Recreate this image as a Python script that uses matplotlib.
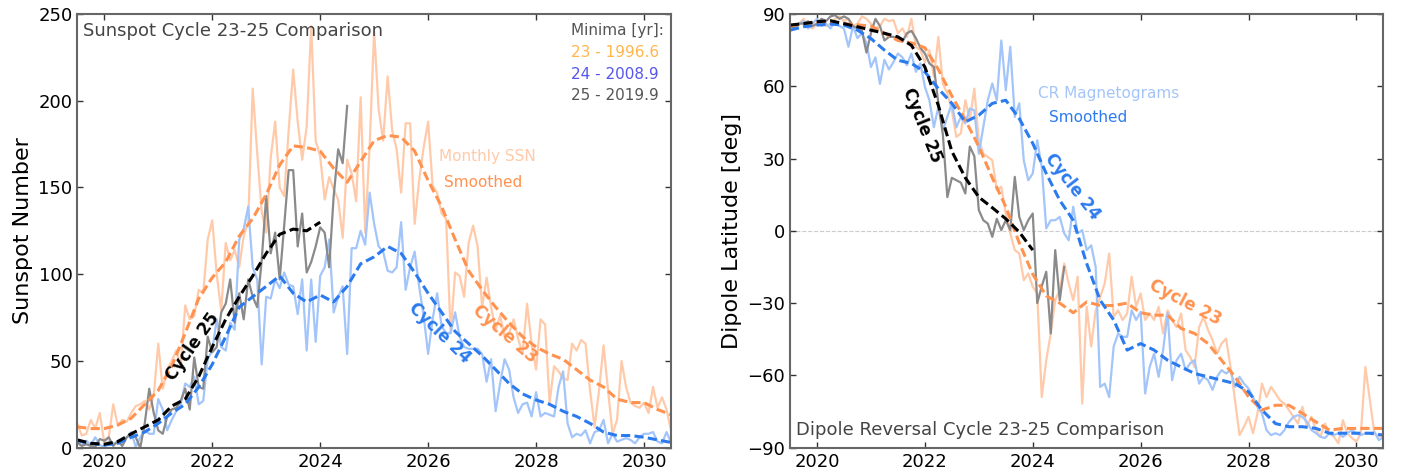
import numpy as np
import matplotlib
matplotlib.use("Agg")
import matplotlib.pyplot as plt

plt.rcParams['font.family'] = ['DejaVu Sans']

# ---------------- data ----------------
start_year = 2019.5

# Sunspot number, monthly (cycle 23 / 24 shifted so minima align with cycle 25)
ssn_c23 = [14, 7, 8, 16, 11, 20, 3, 6, 25, 13, 16, 15, 20, 24, 25, 27, 22, 30, 60, 34,
           45, 50, 56, 47, 82, 74, 76, 91, 89, 120, 131, 100, 79, 118, 108, 114, 104, 122, 130, 207,
           170, 136, 124, 167, 188, 150, 145, 183, 218, 188, 166, 185, 243, 177, 168, 143, 156, 149, 143, 121,
           166, 158, 142, 202, 124, 174, 240, 195, 177, 214, 183, 172, 147, 187, 187, 129, 154, 173, 188, 151,
           147, 135, 132, 66, 101, 99, 87, 118, 128, 116, 81, 98, 81, 68, 76, 64, 66, 74, 63, 54,
           83, 60, 45, 74, 71, 26, 47, 44, 40, 39, 60, 56, 62, 60, 33, 12, 33, 59, 33, 8,
           16, 50, 35, 26, 24, 23, 26, 20, 35, 23, 29, 22, 10]
ssn_c24 = [2.5, 1.5, 4, 1.5, 6, 1.5, 0.5, 3.5, 2.5, 2.5, 4.5, 6, 9, 0.5, 6, 10, 8, 8, 28, 22,
           10, 16, 21, 25, 37, 35, 41, 25, 27, 51, 56, 74, 58, 56, 72, 68, 120, 126, 139, 104,
           97, 48, 87, 86, 97, 92, 101, 94, 93, 77, 97, 56, 97, 61, 99, 104, 120, 78, 87, 93,
           54, 115, 115, 125, 117, 147,
           129, 116, 113, 102, 101, 104, 130, 91, 104, 113, 93, 76, 54, 74, 89, 70, 66, 66, 78, 64,
           58, 57, 57, 57, 54, 38, 51, 21, 37, 51, 45, 29, 20, 25, 26, 18, 32, 18, 20, 19,
           18, 35, 44, 14, 6, 8, 7, 10, 2.5, 9, 10, 16, 2.5, 8, 3.5, 4.5, 5.5, 4.5, 2.5, 6,
           8, 8, 9, 3.5, 2.5, 9, 3]
ssn_c25 = [3, 1, 2, 1, 0.5, 5, 4, 6, 1, 4, 1, 6, 8, 6, 0, 14, 34, 20, 10, 8,
           18, 22, 23, 27, 34, 22, 52, 35, 34, 64, 55, 58, 78, 83, 97, 72, 89, 74, 97, 87,
           81, 108, 145, 112, 124, 97, 128, 160, 160, 116, 135, 101, 107, 116, 127, 124, 104, 145, 172, 164,
           197]

# Smoothed sunspot number, quarterly samples
ssn_c23_smooth = [12, 11, 11, 13, 17, 25, 33, 47, 66, 86, 98, 107, 122, 132, 146, 163, 174, 173, 171, 161,
                  153, 165, 177, 180, 179, 171, 154, 139, 120, 102, 91, 81, 72, 64, 58, 54, 51, 45, 39, 35,
                  28, 26, 26, 22, 19]
ssn_c24_smooth = [4, 2.5, 1.5, 2.5, 6, 9, 14, 20, 25, 35, 48, 64, 81, 87, 93, 99, 89, 84, 88, 84,
                  93, 106, 110, 116, 112, 101, 89, 78, 67, 60, 53, 45, 37, 31, 27.5, 25, 21, 18, 14, 9,
                  7, 7, 6, 4.5, 3]
ssn_c25_smooth = [4.5, 2.5, 2, 3.5, 8, 12, 16, 24, 28, 41, 58, 74, 87, 99, 112, 123, 126, 125, 130]

# Dipole latitude, per month
dip_c23 = [85, 84, 86, 88, 85, 84, 86, 87, 85, 86, 88, 89, 87, 88, 85, 86, 89, 88, 86, 84,
           85, 88, 87,
           87.5, 82, 84, 80.5, 88, 76.4, 75, 70, 75, 64, 80.5, 61, 57, 50, 39, 40.4, 54.2, 46, 59, 37.6,
           32, 30.7, 29.3, 16.9, 18.3, 7.2, -1.1, -8, -9.4, -20.5, -17.7, -23.2, -26, -69, -53.7, -42.6,
           -28.8, -24.6, -13.6, -21.9, -28.8, -19,
           -71.7, -31.5, -48, -33, -27.4, -21.9, -9.4, -35.7, -33, -37, -34.3, -19, -31.5, -26, -37,
           -34.3, -37, -31.5, -42.6, -33, -37, -40, -34.3, -49.5, -52.3, -56.5, -40, -35.7, -41.2, -45.4,
           -51, -46.8, -44.7, -56.5, -70.3, -84.8, -81.3, -77.2, -84, -75.8, -63.4, -69, -64.8, -67.5,
           -70.3, -71.7, -74.4, -77.2, -80, -73, -81.3, -77.2, -82.7, -85.5, -80, -84, -85.5, -88.2,
           -78.6, -84, -86, -87.5, -84, -56.5, -70.3, -84, -85.5, -84]
dip_c24 = [83, 84, 86, 87, 84, 86, 88, 85, 86, 84, 87, 85, 84, 76.4,
           85, 80, 82, 78, 68, 72, 61, 71, 67, 70, 73.6, 72, 68.8, 73.6, 66, 69.5, 59.8, 54.2, 43, 51.5,
           41.8, 47.3, 52.9, 43, 47.3, 44.6, 50.8, 50, 32, 43, 54.2, 61.2, 54.2, 79, 58.4, 76.4, 47.3, 52.9,
           29.3, 21, 23.8, 37.6, 26.6, 1, 4.4, 4.4, 5.8, -1.1, -3.9, 10, -1.1,
           0.3, -8, -6, -15, -64.8, -63.4, -69, -48, -42.6, -44, -44, -33, -37, -33.6, -67.5, -56.5,
           -51, -60.6, -49.5, -34, -62, -53.7, -51, -57.8, -55, -53.7, -63.4, -60.6, -62, -66, -60.6,
           -57.8, -59.2, -57.8, -64.8, -60.6, -63.4, -65.4, -69, -73, -75.8, -82.7, -84.8, -84, -84.8,
           -82.7, -79.3, -77.2, -76.5, -77.2, -79.3, -82.7, -84, -85.5, -86, -84, -84.8, -84, -85.5, -84,
           -82.7, -84, -84.8, -84, -84, -83.4, -86.9, -85.5]
dip_c25 = [85, 84, 86, 86, 87, 85, 86, 88, 87, 89, 89.5, 88, 89, 88, 85, 84, 83,
           74, 82, 88, 85, 79, 80.5, 80.5, 80, 78.5, 82, 83, 80, 76, 73.6, 69.5, 68, 53, 40,
           14, 22, 21, 20, 15.5, 35, 31, 8.6, 4.4, 3, -2.5, 5, 0.3, 4.4, 0.3, 22.4, 5.8, 0.3, 4.4, 7.2,
           -30, -23, -17, -42.6, -8, -28.8, -15]

# Smoothed dipole latitude, quarterly samples
dip_c23_smooth = [85, 86, 86.5, 86.5, 86, 85.5, 85, 82, 79, 78, 76, 67, 56, 46, 35, 22, 10, -5, -18, -27,
                  -30, -34, -29.5, -31, -31, -30, -34, -35, -35, -40.5, -42.6, -46.8, -53.7, -60.6, -68.9,
                  -74.4, -72.4, -72.4, -75.8, -79.3, -82.7, -82, -82, -82, -82]
dip_c24_smooth = [83.3, 84.7, 85.4, 85.8, 85.4, 83.3, 79.8, 75, 70.8, 69.5, 66, 59, 52.9, 45.2, 48, 52.9,
                  54.2, 46.6, 36.3, 23.8, 12.7, 4.4, -13.6, -28.8, -37, -49.5, -46.8, -49.5, -53.7, -56.5,
                  -59.2, -60.6, -62, -63.4, -66.8, -74.4, -80, -81.3, -81.3, -82, -84, -84, -84, -84, -84.8]
dip_c25_smooth = [85.4, 86, 86.8, 87.2, 86, 84.7, 83.3, 82, 80.5, 77, 68, 52, 33, 22, 14, 9.6, 5, -0.5, -8]

minima_labels = ["Minima [yr]:", "23 - 1996.6", "24 - 2008.9", "25 - 2019.9"]


def monthly(vals):
    return start_year + np.arange(len(vals)) / 12.0


def quarterly(vals):
    return start_year + np.arange(len(vals)) * 0.25


# ---------------- style ----------------
C_OR_L = '#ffcaa9'
C_OR = '#ff924f'
C_BL_L = '#a3c5fa'
C_BL = '#2b7bef'
C_GR = '#8a8a8a'
C_TXT = '#444444'
dash = (0, (3.0, 1.4))

fig = plt.figure(figsize=(14.05, 4.76), dpi=100)
ax1 = fig.add_axes([0.0550, 0.0595, 0.4226, 0.9111])
ax2 = fig.add_axes([0.5623, 0.0595, 0.4223, 0.9111])

for ax in (ax1, ax2):
    ax.tick_params(direction='in', top=True, right=True, labelsize=13, length=4.5,
                   width=1, color='#333333')
    for s in ax.spines.values():
        s.set_color('#666666')
        s.set_linewidth(1.5)
    ax.set_xlim(2019.5, 2030.5)
    ax.set_xticks([2020, 2022, 2024, 2026, 2028, 2030])

# ---------- left panel ----------
ax1.plot(monthly(ssn_c23), ssn_c23, color=C_OR_L, lw=1.6)
ax1.plot(monthly(ssn_c24), ssn_c24, color=C_BL_L, lw=1.6)
ax1.plot(monthly(ssn_c25), ssn_c25, color=C_GR, lw=1.6)
ax1.plot(quarterly(ssn_c23_smooth), ssn_c23_smooth, color=C_OR, lw=2.2, ls=dash)
ax1.plot(quarterly(ssn_c24_smooth), ssn_c24_smooth, color=C_BL, lw=2.2, ls=dash)
ax1.plot(quarterly(ssn_c25_smooth), ssn_c25_smooth, color='black', lw=2.2, ls=dash)
ax1.set_ylim(0, 250)
ax1.set_yticks([0, 50, 100, 150, 200, 250])
ax1.set_ylabel('Sunspot Number', fontsize=16)

ax1.text(0.010, 0.961, 'Sunspot Cycle 23-25 Comparison', transform=ax1.transAxes,
         fontsize=13, color=C_TXT, va='center', ha='left')
mcolors = ['#555555', '#ffb64d', '#5555ee', '#555555']
for i, (lab, col) in enumerate(zip(minima_labels, mcolors)):
    ax1.text(0.8316, 0.961 - i * 0.050, lab, transform=ax1.transAxes, fontsize=11,
             color=col, va='center', ha='left')
ax1.text(0.610, 0.671, 'Monthly SSN', transform=ax1.transAxes, fontsize=11,
         color=C_OR_L, va='center', ha='left')
ax1.text(0.618, 0.611, 'Smoothed', transform=ax1.transAxes, fontsize=11,
         color=C_OR, va='center', ha='left')
ax1.text(2021.64, 58, 'Cycle 25', rotation=54.5, fontsize=12, fontweight='bold',
         color='black', ha='center', va='center', rotation_mode='anchor')
ax1.text(2026.22, 66.4, 'Cycle 24', rotation=-44, fontsize=12, fontweight='bold',
         color=C_BL, ha='center', va='center', rotation_mode='anchor')
ax1.text(2027.42, 65.5, 'Cycle 23', rotation=-40.7, fontsize=12, fontweight='bold',
         color=C_OR, ha='center', va='center', rotation_mode='anchor')

# ---------- right panel ----------
ax2.axhline(0, color='#cccccc', lw=0.8, ls='--', zorder=0)
ax2.plot(monthly(dip_c23), dip_c23, color=C_OR_L, lw=1.6)
ax2.plot(monthly(dip_c24), dip_c24, color=C_BL_L, lw=1.6)
ax2.plot(monthly(dip_c25), dip_c25, color=C_GR, lw=1.6)
ax2.plot(quarterly(dip_c23_smooth), dip_c23_smooth, color=C_OR, lw=2.2, ls=dash)
ax2.plot(quarterly(dip_c24_smooth), dip_c24_smooth, color=C_BL, lw=2.2, ls=dash)
ax2.plot(quarterly(dip_c25_smooth), dip_c25_smooth, color='black', lw=2.2, ls=dash)
ax2.set_ylim(-90, 90)
ax2.set_yticks([-90, -60, -30, 0, 30, 60, 90])
ax2.set_ylabel('Dipole Latitude [deg]', fontsize=16)

ax2.text(0.010, 0.041, 'Dipole Reversal Cycle 23-25 Comparison', transform=ax2.transAxes,
         fontsize=13, color=C_TXT, va='center', ha='left')
ax2.text(0.418, 0.817, 'CR Magnetograms', transform=ax2.transAxes, fontsize=11,
         color=C_BL_L, va='center', ha='left')
ax2.text(0.4365, 0.762, 'Smoothed', transform=ax2.transAxes, fontsize=11,
         color=C_BL, va='center', ha='left')
ax2.text(2021.95, 43.9, 'Cycle 25', rotation=-68, fontsize=12, fontweight='bold',
         color='black', ha='center', va='center', rotation_mode='anchor')
ax2.text(2024.73, 18.3, 'Cycle 24', rotation=-52, fontsize=12, fontweight='bold',
         color=C_BL, ha='center', va='center', rotation_mode='anchor')
ax2.text(2026.83, -29.8, 'Cycle 23', rotation=-27.7, fontsize=12, fontweight='bold',
         color=C_OR, ha='center', va='center', rotation_mode='anchor')

fig.savefig('out.png', dpi=100)
